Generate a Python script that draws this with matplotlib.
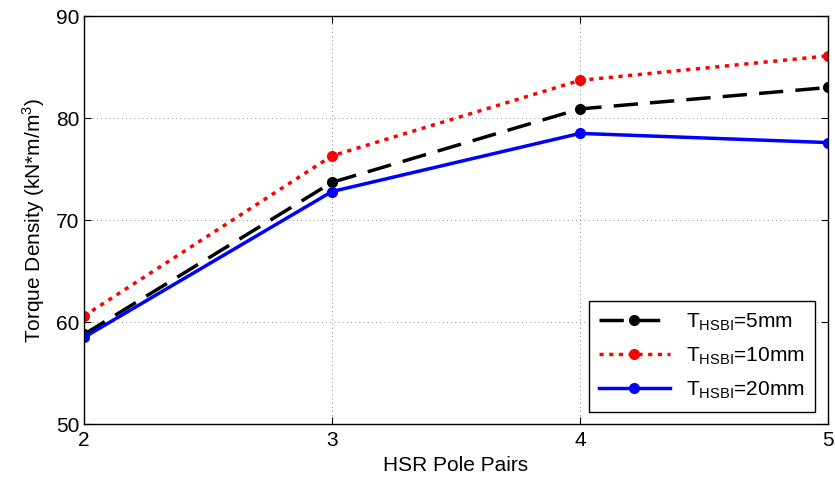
import matplotlib.pyplot as plt

plt.rcParams['font.family'] = ['Liberation Sans', 'DejaVu Sans']

pole_pairs = [2, 3, 4, 5]
t5 = [58.8, 73.7, 80.9, 83.0]
t10 = [60.6, 76.3, 83.7, 86.1]
t20 = [58.5, 72.8, 78.5, 77.6]

fig = plt.figure(figsize=(8.35, 4.88), dpi=100)
ax = fig.add_axes([0.1006, 0.131, 0.891, 0.836])

ax.plot(pole_pairs, t5, color='black', linestyle=(0, (7, 3.5)), linewidth=2.5,
        marker='o', markersize=7, label=r'T$_{\mathregular{HSBI}}$=5mm')
ax.plot(pole_pairs, t10, color='red', linestyle=(0, (1.2, 1.6)), linewidth=2.5,
        marker='o', markersize=7, label=r'T$_{\mathregular{HSBI}}$=10mm')
ax.plot(pole_pairs, t20, color='blue', linestyle='-', linewidth=2.5,
        marker='o', markersize=7, label=r'T$_{\mathregular{HSBI}}$=20mm')

ax.set_xlim(2, 5)
ax.set_ylim(50, 90)
ax.set_xticks([2, 3, 4, 5])
ax.set_yticks([50, 60, 70, 80, 90])
ax.grid(True, color='black', linestyle=(0, (1, 4)), linewidth=0.6, alpha=0.6)
ax.tick_params(direction='in', labelsize=15, length=5, top=True, right=True)
ax.tick_params(axis='x', pad=5)
for s in ax.spines.values():
    s.set_linewidth(1.0)

ax.set_xlabel('HSR Pole Pairs', fontsize=15, labelpad=4)
ax.set_ylabel(r'Torque Density (kN*m/m$^{\mathregular{3}}$)', fontsize=15, labelpad=6)

leg = ax.legend(loc='lower right', fontsize=15, fancybox=False, edgecolor='black',
                framealpha=1, handlelength=3.4, borderaxespad=0.6, labelspacing=0.6,
                borderpad=0.5)
leg.get_frame().set_linewidth(1.0)

fig.savefig('out.png', dpi=100)
